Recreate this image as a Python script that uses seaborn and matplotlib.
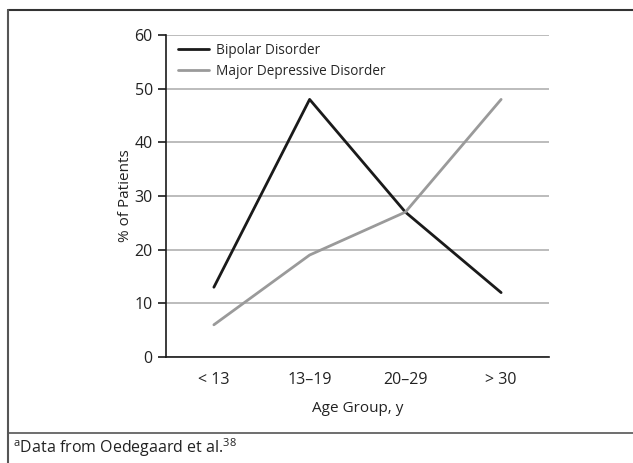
import matplotlib
matplotlib.use("Agg")
import matplotlib.pyplot as plt
import seaborn as sns
import pandas as pd
from matplotlib.lines import Line2D

# Datos
age_groups = ["< 13", "13\u201319", "20\u201329", "> 30"]
bipolar = [13, 48, 27, 12]
major_depressive = [6, 19, 27, 48]
series_names = ["Bipolar Disorder", "Major Depressive Disorder"]
series_colors = ["#1a1a1a", "#9a9a9a"]

df = pd.DataFrame({
    "Age Group": age_groups * 2,
    "Percent": bipolar + major_depressive,
    "Group": [series_names[0]] * 4 + [series_names[1]] * 4,
})

sns.set_style("white")
plt.rcParams["font.family"] = ["Open Sans", "DejaVu Sans"]
plt.rcParams["mathtext.fontset"] = "custom"
plt.rcParams["mathtext.rm"] = "Open Sans"

fig = plt.figure(figsize=(6.33, 4.63), dpi=100)
ax = fig.add_axes([166 / 633, 1 - 357 / 463, 383 / 633, 322 / 463])

sns.lineplot(data=df, x="Age Group", y="Percent", hue="Group", sort=False,
             palette=series_colors, linewidth=2, ax=ax, legend=False)

ax.set_ylim(0, 60)
ax.set_xlim(-0.5, 3.5)
ax.set_yticks(range(0, 61, 10))
ax.yaxis.grid(True, color="#b0b0b0", linewidth=1.2)
ax.set_axisbelow(True)

# marcas entre categorías, etiquetas en el centro
ax.set_xticks([-0.5, 0.5, 1.5, 2.5, 3.5])
ax.set_xticklabels([])
ax.set_xticks(range(len(age_groups)), minor=True)
ax.set_xticklabels(age_groups, minor=True)
ax.tick_params(axis="x", which="major", direction="out", length=6, width=1.2, color="#1a1a1a")
ax.tick_params(axis="x", which="minor", length=0, pad=11, labelsize=11.5, labelcolor="#222222")
ax.tick_params(axis="y", direction="out", length=6, width=1.2, color="#1a1a1a",
               labelsize=11.5, labelcolor="#222222", left=True)

for side in ["top", "right"]:
    ax.spines[side].set_visible(False)
for side in ["left", "bottom"]:
    ax.spines[side].set_color("#1a1a1a")
    ax.spines[side].set_linewidth(1.2)

ax.set_xlabel("Age Group, y", fontsize=11, color="#222222", labelpad=9)
ax.set_ylabel("% of Patients", fontsize=11, color="#222222", labelpad=1)

handles = [Line2D([], [], color=c, linewidth=2) for c in series_colors]
ax.legend(handles, series_names, loc="upper left", bbox_to_anchor=(0.01, 1.0),
          frameon=False, fontsize=9.8, handlelength=2.3, handletextpad=0.5,
          labelspacing=0.4, borderaxespad=0.2)

# marco exterior y pie
fig.add_artist(Line2D([8 / 633, 1], [1 - 10 / 463] * 2, color="#333333", linewidth=1.5))
fig.add_artist(Line2D([8 / 633] * 2, [0, 1 - 10 / 463], color="#555555", linewidth=1.5))
fig.add_artist(Line2D([8 / 633, 1], [1 - 433 / 463] * 2, color="#555555", linewidth=1.2))
fig.text(13 / 633, 1 - 448 / 463, r"$^{\mathrm{a}}$Data from Oedegaard et al.$^{\mathrm{38}}$",
         fontsize=11.5, color="#222222", va="center", ha="left")

fig.savefig("out.png", dpi=100)
